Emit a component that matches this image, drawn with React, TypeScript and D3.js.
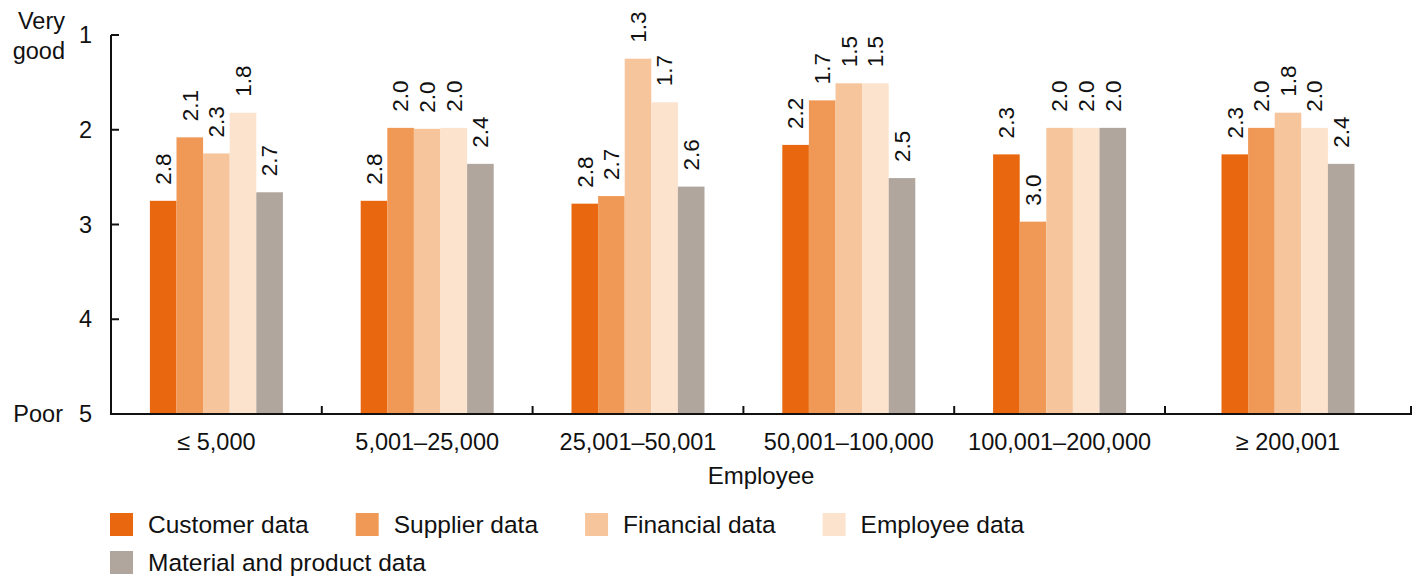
import React from "react";
import * as d3 from "d3";

const categories = ["≤ 5,000", "5,001–25,000", "25,001–50,001", "50,001–100,000", "100,001–200,000", "≥ 200,001"];
const seriesNames = ["Customer data", "Supplier data", "Financial data", "Employee data", "Material and product data"];
const customerData = [2.75, 2.75, 2.78, 2.16, 2.26, 2.26];
const supplierData = [2.08, 1.98, 2.7, 1.69, 2.97, 1.98];
const financialData = [2.25, 1.99, 1.25, 1.51, 1.98, 1.82];
const employeeData = [1.82, 1.98, 1.71, 1.51, 1.98, 1.98];
const materialData = [2.66, 2.36, 2.6, 2.51, 1.98, 2.36];
const yTicks = [1, 2, 3, 4, 5];
const colors = ["#E9680F", "#F09957", "#F7C59B", "#FCE3CD", "#B0A69D"];

const W = 1426;
const H = 580;
const FONT = "'Liberation Sans', Arial, Helvetica, sans-serif";
const LEGEND_FONT = 24.5;

function measure(text: string, size: number) {
  const c = document.createElement("canvas").getContext("2d");
  if (!c) return text.length * size * 0.55;
  c.font = `${size}px 'Liberation Sans', Arial, sans-serif`;
  return c.measureText(text).width;
}

export default function App() {
  const series = [customerData, supplierData, financialData, employeeData, materialData];
  const y = d3.scaleLinear().domain([1, 5]).range([35, 414]);
  const axisLeft = 111;
  const axisRight = 1411;
  const edgeScale = d3.scaleLinear().domain([0, 5]).range([111, 1165]);
  const edges = categories.map((_, i) => edgeScale(i)).concat([axisRight]);
  const centers = categories.map((_, i) => (edges[i] + edges[i + 1]) / 2);
  const x1 = d3.scaleBand<string>().domain(seriesNames).range([-66.5, 66.5]).padding(0);
  const fmt = d3.format(".1f");

  // legend layout
  const legendItems: { name: string; color: string; x: number; y: number }[] = [];
  let lx = 110;
  let row = 0;
  seriesNames.forEach((name, i) => {
    const tw = measure(name, LEGEND_FONT);
    if (i === 4) {
      row = 1;
      lx = 110;
    }
    legendItems.push({ name, color: colors[i], x: lx, y: 513 + row * 38 });
    lx = lx + 38 + tw + 47;
  });

  return (
    <svg
      width={W}
      height={H}
      style={{ position: "absolute", left: 0, top: 0, fontFamily: FONT }}
    >
      <rect width={W} height={H} fill="#fff" />
      {/* bars */}
      {series.map((vals, si) =>
        vals.map((v, gi) => {
          const bx = centers[gi] + (x1(seriesNames[si]) as number);
          const bw = x1.bandwidth();
          return (
            <g key={`b-${si}-${gi}`}>
              <rect x={bx} y={y(v)} width={bw} height={y(5) - y(v)} fill={colors[si]} />
              <text
                transform={`translate(${bx + bw / 2},${y(v) - 16}) rotate(-90)`}
                dy="0.35em"
                fontSize={22.5}
                textAnchor="start"
                fill="#111"
              >
                {fmt(v)}
              </text>
            </g>
          );
        })
      )}
      {/* y axis */}
      <line x1={axisLeft} x2={axisLeft} y1={y(1)} y2={y(5)} stroke="#111" strokeWidth={2} />
      {yTicks.map((t) => (
        <g key={`yt-${t}`}>
          {t < 5 && <line x1={axisLeft} x2={axisLeft + 8} y1={y(t)} y2={y(t)} stroke="#111" strokeWidth={2} />}
          <text x={92} y={y(t)} dy="0.35em" textAnchor="end" fontSize={23.5} fill="#111">
            {t}
          </text>
        </g>
      ))}
      <text x={65} y={29} textAnchor="end" fontSize={23.5} fill="#111">Very</text>
      <text x={65} y={59} textAnchor="end" fontSize={23.5} fill="#111">good</text>
      <text x={63} y={y(5)} dy="0.35em" textAnchor="end" fontSize={23.5} fill="#111">Poor</text>
      {/* x axis */}
      <line x1={axisLeft - 1} x2={axisRight + 1} y1={y(5)} y2={y(5)} stroke="#111" strokeWidth={2} />
      {edges.slice(1).map((e, i) => (
        <line key={`xt-${i}`} x1={e} x2={e} y1={y(5)} y2={y(5) - 8} stroke="#111" strokeWidth={2} />
      ))}
      {categories.map((c, i) => (
        <text key={`xl-${i}`} x={centers[i]} y={450} textAnchor="middle" fontSize={23.5} fill="#111">
          {c}
        </text>
      ))}
      <text x={(axisLeft + axisRight) / 2} y={484} textAnchor="middle" fontSize={24} fill="#111">
        Employee
      </text>
      {/* legend */}
      {legendItems.map((it) => (
        <g key={`lg-${it.name}`}>
          <rect x={it.x} y={it.y} width={23} height={23} fill={it.color} />
          <text x={it.x + 38} y={it.y + 11.5} dy="0.35em" fontSize={LEGEND_FONT} fill="#111">
            {it.name}
          </text>
        </g>
      ))}
    </svg>
  );
}
